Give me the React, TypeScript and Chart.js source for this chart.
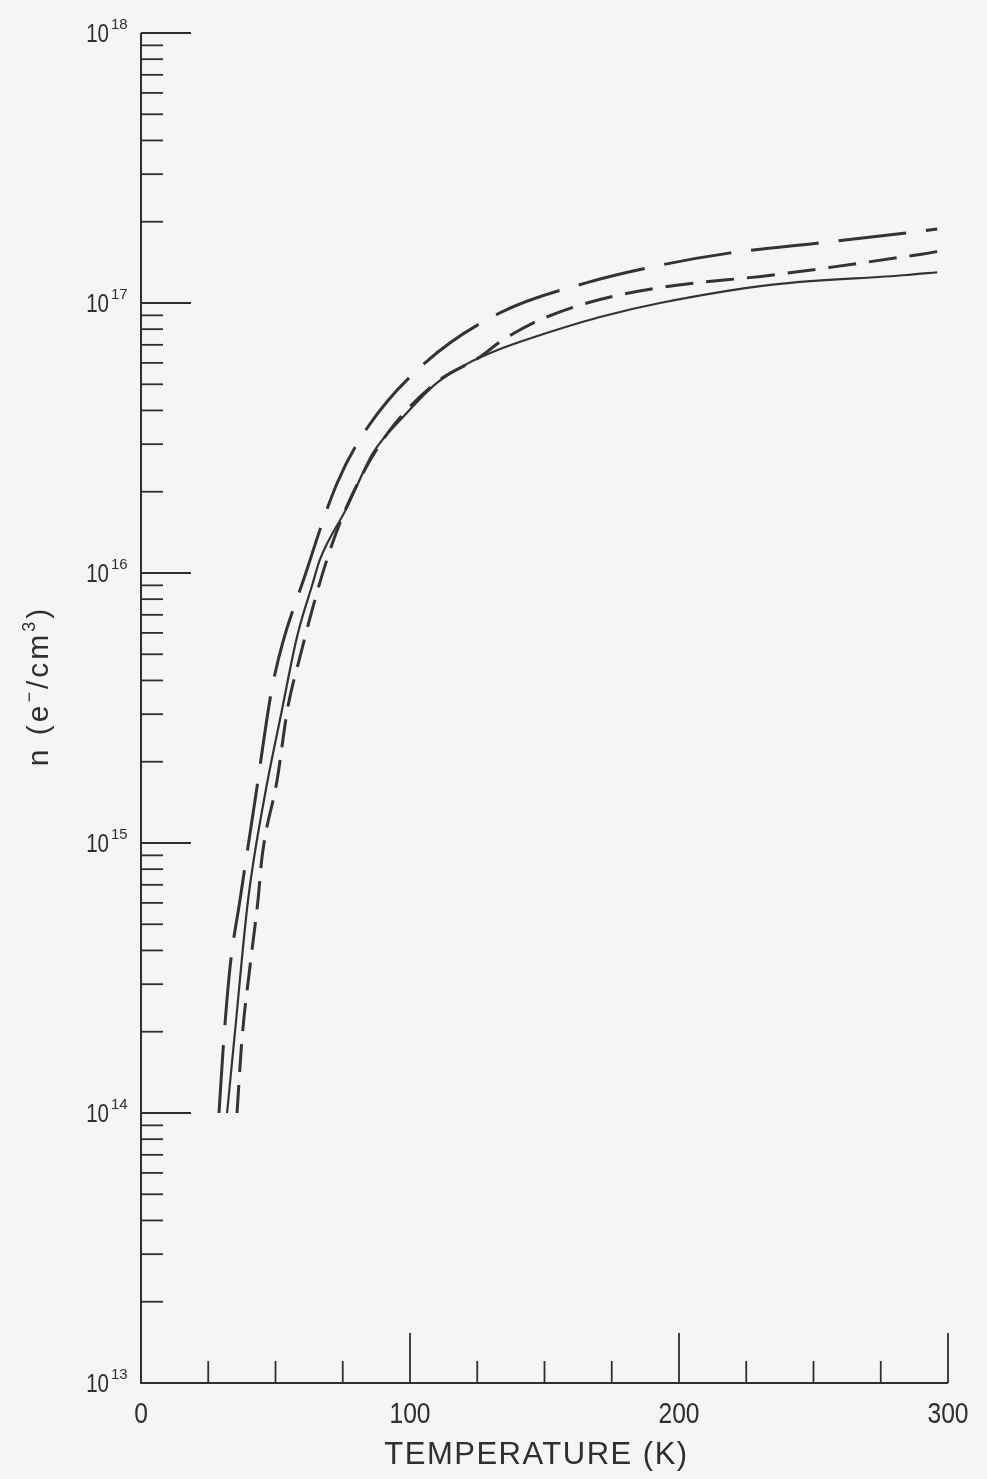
import React, { useEffect, useRef } from "react";
import { Chart, registerables } from "chart.js";

Chart.register(...registerables);

const W = 987;
const H = 1479;

// Long-dash curve
const tempLongDash = [29, 30.5, 33.1, 36.8, 42.4, 49.1, 61.7, 72.9, 84.4, 105.6, 133.5, 165.8, 192.9, 218.6, 252.4, 284.8, 296];
const nLongDash = [1.0e14, 1.71e14, 3.47e14, 6.15e14, 1.44e15, 3.92e15, 1.03e16, 2.15e16, 3.48e16, 6.0e16, 9.2e16, 1.19e17, 1.38e17, 1.53e17, 1.67e17, 1.82e17, 1.88e17];

// Solid curve
const tempSolid = [32.0, 34.9, 39.8, 45.7, 52.4, 58.0, 63.9, 66.5, 76.6, 86.2, 97.4, 110.0, 121.2, 133.5, 145.7, 170.6, 192.9, 234.9, 284.8, 296];
const nSolid = [1.0e14, 1.98e14, 6.15e14, 1.44e15, 3.11e15, 5.8e15, 9.2e15, 1.12e16, 1.75e16, 2.78e16, 3.78e16, 5.06e16, 5.95e16, 6.75e16, 7.45e16, 8.87e16, 1.0e17, 1.17e17, 1.27e17, 1.30e17];

// Short-dash curve
const tempShortDash = [35.7, 37.5, 40.5, 43.5, 45.0, 50.6, 54.6, 59.1, 63.6, 69.1, 74.7, 82.5, 92.6, 110.0, 126.0, 133.5, 145.7, 165.8, 192.9, 234.9, 290.7, 296];
const nShortDash = [1.0e14, 1.86e14, 3.48e14, 6.15e14, 8.87e14, 1.71e15, 3.19e15, 4.89e15, 7.29e15, 1.12e16, 1.6e16, 2.34e16, 3.39e16, 5.1e16, 6.31e16, 7.18e16, 8.43e16, 1.0e17, 1.14e17, 1.27e17, 1.52e17, 1.55e17];

// Axes / ticks
const yDecades = [13, 14, 15, 16, 17, 18];
const yMinorMultipliers = [2, 3, 4, 5, 6, 7, 8, 9];
const xMajorTicks = [0, 100, 200, 300];
const xMinorTicks = [25, 50, 75, 125, 150, 175, 225, 250, 275];
const xTitle = "TEMPERATURE (K)";
const yTitleParts = [
  { text: "n (e", sup: false },
  { text: "\u2212", sup: true },
  { text: "/cm", sup: false },
  { text: "3", sup: true },
  { text: ")", sup: false },
];

const INK = "#2f2f2f";
const PAPER = "#f5f5f4";
const FONT = '"Liberation Sans", Arial, sans-serif';

const toPoints = (xs: number[], ys: number[]) => xs.map((x, i) => ({ x, y: ys[i] }));

const paperAxes = {
  id: "paperAxes",
  beforeDraw(chart: any) {
    const ctx = chart.ctx;
    ctx.save();
    ctx.fillStyle = PAPER;
    ctx.fillRect(0, 0, chart.width, chart.height);
    ctx.restore();
  },
  afterDraw(chart: any) {
    const ctx: CanvasRenderingContext2D = chart.ctx;
    const xs = chart.scales.x;
    const ys = chart.scales.y;
    const x0 = xs.getPixelForValue(0);
    const xEnd = xs.getPixelForValue(300);
    const yBot = ys.getPixelForValue(1e13);
    const yTop = ys.getPixelForValue(1e18);
    ctx.save();
    ctx.strokeStyle = INK;
    ctx.fillStyle = INK;
    ctx.lineWidth = 2;
    ctx.lineCap = "butt";
    // axis lines
    ctx.beginPath();
    ctx.moveTo(x0, yTop);
    ctx.lineTo(x0, yBot);
    ctx.lineTo(xEnd, yBot);
    ctx.stroke();
    // y ticks (inward)
    ctx.lineWidth = 1.8;
    for (const d of yDecades) {
      const y = ys.getPixelForValue(Math.pow(10, d));
      ctx.beginPath();
      ctx.moveTo(x0, y);
      ctx.lineTo(x0 + 50, y);
      ctx.stroke();
      if (d < 18) {
        for (const m of yMinorMultipliers) {
          const ym = ys.getPixelForValue(m * Math.pow(10, d));
          ctx.beginPath();
          ctx.moveTo(x0, ym);
          ctx.lineTo(x0 + 22, ym);
          ctx.stroke();
        }
      }
    }
    // x ticks (inward, upward)
    for (const t of xMajorTicks) {
      if (t === 0) continue;
      const x = xs.getPixelForValue(t);
      ctx.beginPath();
      ctx.moveTo(x, yBot);
      ctx.lineTo(x, yBot - 50);
      ctx.stroke();
    }
    for (const t of xMinorTicks) {
      const x = xs.getPixelForValue(t);
      ctx.beginPath();
      ctx.moveTo(x, yBot);
      ctx.lineTo(x, yBot - 22);
      ctx.stroke();
    }
    // y tick labels 10^d
    for (const d of yDecades) {
      const y = ys.getPixelForValue(Math.pow(10, d));
      ctx.save();
      ctx.translate(109, y + 9);
      ctx.scale(0.82, 1);
      ctx.font = `25px ${FONT}`;
      ctx.textAlign = "right";
      ctx.textBaseline = "alphabetic";
      ctx.fillText("10", 0, 0);
      ctx.restore();
      ctx.font = `15px ${FONT}`;
      ctx.textAlign = "left";
      ctx.textBaseline = "alphabetic";
      ctx.fillText(String(d), 111, y - 4);
    }
    // x tick labels
    for (const t of xMajorTicks) {
      const x = xs.getPixelForValue(t);
      ctx.save();
      ctx.translate(x, yBot + 40);
      ctx.scale(0.85, 1);
      ctx.font = `29px ${FONT}`;
      ctx.textAlign = "center";
      ctx.textBaseline = "alphabetic";
      ctx.fillText(String(t), 0, 0);
      ctx.restore();
    }
    // x title
    ctx.save();
    (ctx as any).letterSpacing = "1.5px";
    ctx.font = `31px ${FONT}`;
    ctx.textAlign = "center";
    ctx.textBaseline = "alphabetic";
    ctx.fillText(xTitle, (x0 + xEnd) / 2 - 8, yBot + 81);
    ctx.restore();
    // y title (rotated)
    ctx.save();
    ctx.translate(48, 686);
    ctx.rotate(-Math.PI / 2);
    (ctx as any).letterSpacing = "3px";
    ctx.textAlign = "left";
    ctx.textBaseline = "alphabetic";
    let total = 0;
    const widths: number[] = [];
    for (const p of yTitleParts) {
      ctx.font = p.sup ? `18px ${FONT}` : `30px ${FONT}`;
      const w = ctx.measureText(p.text).width;
      widths.push(w);
      total += w;
    }
    let cx = -total / 2;
    yTitleParts.forEach((p, i) => {
      ctx.font = p.sup ? `18px ${FONT}` : `30px ${FONT}`;
      ctx.fillText(p.text, cx, p.sup ? -13 : 0);
      cx += widths[i];
    });
    ctx.restore();
    ctx.restore();
  },
};

export default function App() {
  const canvasRef = useRef<HTMLCanvasElement | null>(null);

  useEffect(() => {
    if (!canvasRef.current) return;
    const common = {
      pointRadius: 0,
      fill: false,
      borderColor: "#333333",
      cubicInterpolationMode: "monotone" as const,
    };
    const chart = new Chart(canvasRef.current, {
      type: "line",
      data: {
        datasets: [
          {
            ...common,
            label: "long dash",
            data: toPoints(tempLongDash, nLongDash),
            borderWidth: 3,
            borderDash: [68, 20],
          },
          {
            ...common,
            label: "solid",
            data: toPoints(tempSolid, nSolid),
            borderWidth: 2.2,
          },
          {
            ...common,
            label: "short dash",
            data: toPoints(tempShortDash, nShortDash),
            borderWidth: 3,
            borderDash: [28, 13],
          },
        ],
      },
      options: {
        responsive: false,
        animation: false,
        devicePixelRatio: 1,
        events: [],
        layout: { padding: { left: 141, right: 39, top: 33, bottom: 96 } },
        plugins: { legend: { display: false }, tooltip: { enabled: false }, title: { display: false } },
        scales: {
          x: { type: "linear", min: 0, max: 300, display: false },
          y: { type: "logarithmic", min: 1e13, max: 1e18, display: false },
        },
      },
      plugins: [paperAxes],
    });
    return () => chart.destroy();
  }, []);

  return (
    <div style={{ position: "absolute", left: 0, top: 0, width: W, height: H }}>
      <canvas ref={canvasRef} width={W} height={H} style={{ display: "block" }} />
    </div>
  );
}
